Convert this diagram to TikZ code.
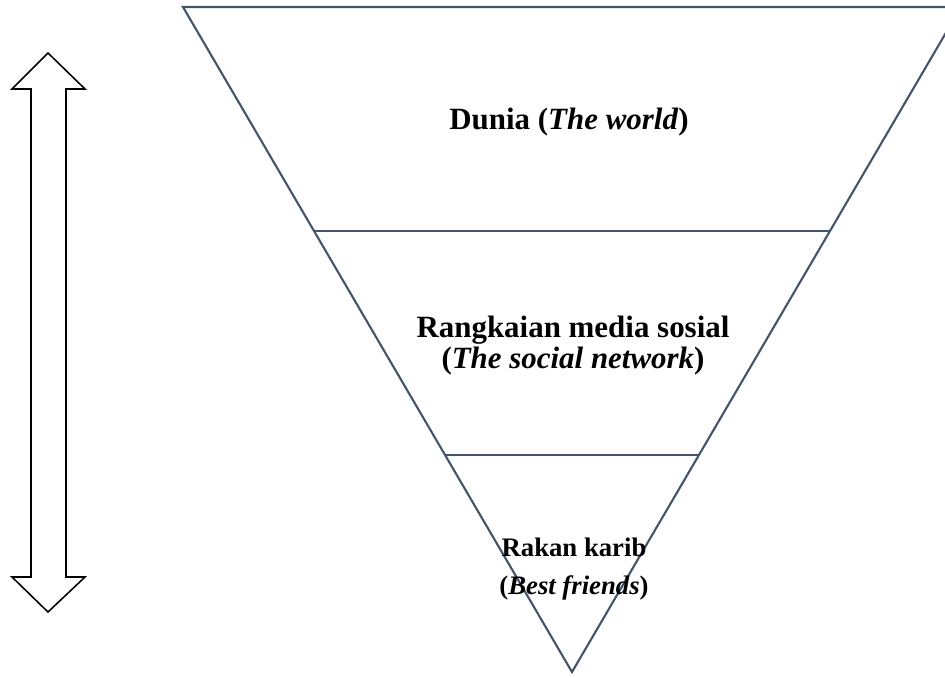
\documentclass[tikz,border=0pt]{standalone}
\usepackage{fontspec}
\setmainfont{Liberation Serif}
\usetikzlibrary{calc}
\definecolor{slate}{HTML}{44546A}
\begin{document}
\begin{tikzpicture}[x=0.025cm,y=-0.025cm]

        \useasboundingbox (0,0) rectangle (945,677);
        \clip (0,0) rectangle (945,677);

        % levels of the funnel
        \begin{scope}[draw=slate,line width=1.5pt,line join=miter]
          \coordinate (tl) at (183,7);
          \coordinate (tr) at (961,7);
          \coordinate (apex) at (572,672);
          \draw (tl) -- (tr) -- (apex) -- cycle;
          \draw ($(tl)!224/665!(apex)$) -- ($(tr)!224/665!(apex)$);
          \draw ($(tl)!448/665!(apex)$) -- ($(tr)!448/665!(apex)$);
        \end{scope}

        % labels
        \begin{scope}[every node/.style={align=center,inner sep=0pt}]
          \node[font=\bfseries\fontsize{22}{22}\selectfont] (world)   at (569,122) {Dunia (\textit{The world})};
          \node[font=\bfseries\fontsize{22}{22}\selectfont] (network) at (573,346) {Rangkaian media sosial\\(\textit{The social network})};
          \node[font=\bfseries\fontsize{19}{27}\selectfont] (friends) at (574,569) {Rakan karib\\(\textit{Best friends})};
        \end{scope}

        % double arrow
        \draw[line width=1.1pt,line join=miter] (48,53) -- (85,89) -- (66,89) -- (66,577) -- (85,577)
          -- (48,612) -- (12,577) -- (31,577) -- (31,89) -- (12,89) -- cycle;

      \end{tikzpicture}
\end{document}
